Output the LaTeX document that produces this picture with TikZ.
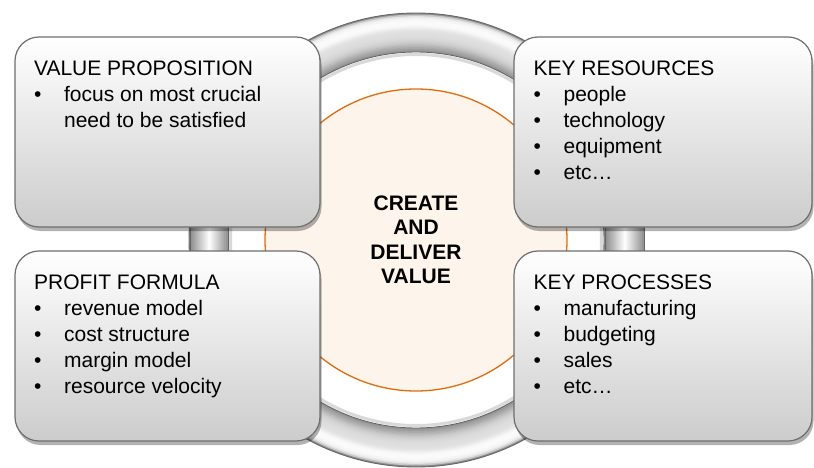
\documentclass[tikz,border=0pt]{standalone}
\usepackage{fontspec}
\setmainfont{Liberation Sans}
\usetikzlibrary{shadows,calc}
\definecolor{boxline}{HTML}{6E6E6E}
\definecolor{peach}{HTML}{FDF4EB}
\definecolor{orangeline}{HTML}{E46C0A}
\newcommand{\firstline}{\rule{0pt}{16pt}}
\newcommand{\bit}[1]{\makebox[30pt][l]{\textbullet}#1}
\begin{document}
\begin{tikzpicture}[x=1pt,y=-1pt,
  box/.style={draw=boxline, line width=1.2pt, rounded corners=24pt, top color=white, bottom color=black!20,
    minimum height=190pt, inner sep=0pt,
    drop shadow={shadow xshift=1.5pt, shadow yshift=-4pt, opacity=0.3, fill=black}},
  boxtext/.style={anchor=north west, align=left, inner sep=0pt, font=\fontsize{21}{26}\selectfont},
  pipe/.style={draw=black!60, line width=0.8pt, left color=black!45, right color=black!45, middle color=white},
  ringedge/.style={draw=black!60, line width=0.9pt}
]
\useasboundingbox (0,0) rectangle (814,468);
\fill[white] (0,0) rectangle (814,468);
\coordinate (c) at (416,240);
% tube-like ring, built from concentric discs
\foreach \t/\g in {0/45,0.04/22,0.08/10,0.12/5,0.16/3,0.2/2,0.24/2,0.28/2,0.32/3,0.36/6,0.4/9,
  0.44/11,0.48/12,0.52/13,0.56/13,0.6/14,0.64/15,0.68/17,0.72/19,0.76/22,0.8/26,0.84/30,0.88/34,0.92/38,0.96/42,1/46}
  \fill[black!\g] (c) circle[radius={(227-39*\t)*1pt}];
\draw[ringedge] (c) circle[radius=227pt];
\draw[ringedge, fill=white] (c) circle[radius=188pt];
\draw[black!15, line width=3pt] (c) circle[radius=185.5pt];
\shade[pipe] (190,215) rectangle (228,262);
\shade[pipe] (605,215) rectangle (644,262);
\node[circle, minimum size=302pt, inner sep=0pt, fill=peach, draw=orangeline, line width=1.3pt,
  align=center, font=\bfseries\fontsize{21}{24.5}\selectfont] (core) at (c) {CREATE\\AND\\DELIVER\\VALUE};
\node[box, minimum width=305pt] (vp) at (167.5,132) {};
\node[box, minimum width=298pt] (kr) at (663,132) {};
\node[box, minimum width=305pt] (pf) at (167.5,346) {};
\node[box, minimum width=298pt] (kp) at (663,346) {};
\node[boxtext] (vpt) at ($(vp.north west)+(19.5,23)$) {\firstline VALUE PROPOSITION\\
  \bit{focus on most crucial}\\
  \hspace*{30pt}need to be satisfied};
\node[boxtext] (krt) at ($(kr.north west)+(20,23)$) {\firstline KEY RESOURCES\\
  \bit{people}\\ \bit{technology}\\ \bit{equipment}\\ \bit{etc…}};
\node[boxtext] (pft) at ($(pf.north west)+(19.5,23)$) {\firstline PROFIT FORMULA\\
  \bit{revenue model}\\ \bit{cost structure}\\ \bit{margin model}\\ \bit{resource velocity}};
\node[boxtext] (kpt) at ($(kp.north west)+(20,23)$) {\firstline KEY PROCESSES\\
  \bit{manufacturing}\\ \bit{budgeting}\\ \bit{sales}\\ \bit{etc…}};
\end{tikzpicture}
\end{document}
